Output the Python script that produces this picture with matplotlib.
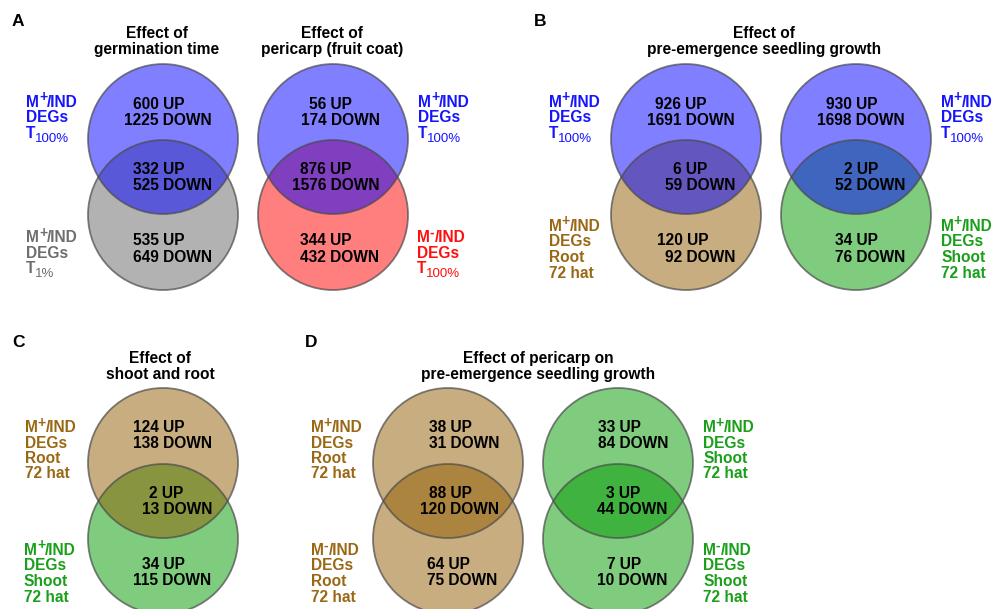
import matplotlib
matplotlib.use("Agg")
import matplotlib.pyplot as plt
from matplotlib.patches import Circle

plt.rcParams["font.family"] = ["Liberation Sans", "DejaVu Sans"]

# ---- DEG counts: [upper-only, overlap, lower-only] ----
germ_up = [600, 332, 535]
germ_down = [1225, 525, 649]
peri_up = [56, 876, 344]
peri_down = [174, 1576, 432]
root_growth_up = [926, 6, 120]
root_growth_down = [1691, 59, 92]
shoot_growth_up = [930, 2, 34]
shoot_growth_down = [1698, 52, 76]
shoot_root_up = [124, 2, 34]
shoot_root_down = [138, 13, 115]
peri_root_up = [38, 88, 64]
peri_root_down = [31, 120, 75]
peri_shoot_up = [33, 3, 7]
peri_shoot_down = [84, 44, 10]

panel_letters = ["A", "B", "C", "D"]
titles = [
    ["Effect of", "germination time"],
    ["Effect of", "pericarp (fruit coat)"],
    ["Effect of", "pre-emergence seedling growth"],
    ["Effect of", "shoot and root"],
    ["Effect of pericarp on", "pre-emergence seedling growth"],
]

BLUE = "#0000ff"
GRAY = "#666666"
RED = "#ff0000"
BROWN = "#915d00"
GREEN = "#009a00"

TXT = {"blue": "#1414ff", "gray": "#6e6e6e", "red": "#ff1010",
       "brown": "#9a6814", "green": "#1a9f1a"}

W, H = 993, 609
fig = plt.figure(figsize=(W / 100, H / 100), dpi=100)
ax = fig.add_axes([0, 0, 1, 1])
ax.set_xlim(0, W)
ax.set_ylim(H, 0)
ax.axis("off")
renderer = fig.canvas.get_renderer()

FS = 11.2
R = 75


def rich(x, y, pieces, color):
    """Draw a run of text pieces (text, size, weight, dy) on one baseline."""
    for s, size, weight, dy in pieces:
        t = ax.text(x, y + dy, s, fontsize=size, fontweight=weight,
                    color=color, ha="left", va="baseline")
        x += t.get_window_extent(renderer).width


def mlabel(x, y, sign, tail, color, step=15.5):
    """Side label like M+/IND, DEGs, T100% or Root/72 hat."""
    c = TXT[color]
    rich(x, y, [("M", FS, "bold", 0), (sign, 10, "bold", -5.5),
                ("/IND", FS, "bold", 0)], c)
    rich(x, y + step, [("DEGs", FS, "bold", 0)], c)
    yy = y + 2 * step
    for line in tail:
        if line.startswith("T"):
            rich(x, yy, [("T", FS, "bold", 0), (line[1:], 9.5, "normal", 4)], c)
        else:
            rich(x, yy, [(line, FS, "bold", 0)], c)
        yy += step


def venn(cx, cy_top, top_col, bot_col, ups, downs, lefts, baselines):
    # lower circle first, upper circle drawn over it
    for cy, col in ((cy_top + 76, bot_col), (cy_top, top_col)):
        ax.add_patch(Circle((cx, cy), R, facecolor=col, alpha=0.5,
                            edgecolor="none", zorder=1))
    for cy in (cy_top + 76, cy_top):
        ax.add_patch(Circle((cx, cy), R, facecolor="none",
                            edgecolor="#4a4a4a", lw=1.3, alpha=0.7, zorder=2))
    for i in range(3):
        ax.text(lefts[i][0], baselines[i][0], f"{ups[i]} UP", fontsize=FS,
                fontweight="bold", color="black", ha="left", va="baseline", zorder=3)
        ax.text(lefts[i][1], baselines[i][1], f"{downs[i]} DOWN", fontsize=FS,
                fontweight="bold", color="black", ha="left", va="baseline", zorder=3)


def title(cx, y, lines):
    ax.text(cx, y, lines[0], fontsize=FS, fontweight="bold", ha="center", va="baseline")
    ax.text(cx, y + 16, lines[1], fontsize=FS, fontweight="bold", ha="center", va="baseline")


# panel letters
for letter, (x, y) in zip(panel_letters, [(12, 26), (534, 26), (12, 347), (305, 347)]):
    ax.text(x, y, letter, fontsize=12.5, fontweight="bold", ha="left", va="baseline")

top_rows = [(109, 125), (174, 190), (245, 262)]
bot_rows = [(432, 448), (498, 514), (569, 585)]

# ---- A ----
title(157, 38, titles[0])
title(332, 38, titles[1])
venn(163, 139, BLUE, GRAY, germ_up, germ_down,
     [(133, 124), (133, 133), (133, 133)], top_rows)
venn(333, 139, BLUE, RED, peri_up, peri_down,
     [(309, 301), (300, 292), (300, 300)], top_rows)
mlabel(26, 107, "+", ["T100%"], "blue")
mlabel(26, 242, "+", ["T1%"], "gray")
mlabel(418, 107, "+", ["T100%"], "blue")
mlabel(417, 242, "-", ["T100%"], "red")

# ---- B ----
title(764, 38, titles[2])
venn(686, 139, BLUE, BROWN, root_growth_up, root_growth_down,
     [(655, 647), (673, 665), (657, 665)], top_rows)
venn(856, 139, BLUE, GREEN, shoot_growth_up, shoot_growth_down,
     [(826, 817), (844, 835), (835, 835)], top_rows)
mlabel(549, 107, "+", ["T100%"], "blue")
mlabel(549, 231, "+", ["Root", "72 hat"], "brown")
mlabel(941, 107, "+", ["T100%"], "blue")
mlabel(941, 231, "+", ["Shoot", "72 hat"], "green")

# ---- C ----
title(160, 363, titles[3])
venn(163, 463, BROWN, GREEN, shoot_root_up, shoot_root_down,
     [(133, 133), (149, 142), (142, 133)], bot_rows)
mlabel(25, 432, "+", ["Root", "72 hat"], "brown")
mlabel(24, 555, "+", ["Shoot", "72 hat"], "green")

# ---- D ----
title(538, 363, titles[4])
venn(448, 463, BROWN, BROWN, peri_root_up, peri_root_down,
     [(429, 429), (429, 420), (427, 427)], bot_rows)
venn(618, 463, GREEN, GREEN, peri_shoot_up, peri_shoot_down,
     [(598, 598), (606, 597), (607, 597)], bot_rows)
mlabel(311, 432, "+", ["Root", "72 hat"], "brown")
mlabel(311, 555, "-", ["Root", "72 hat"], "brown")
mlabel(703, 432, "+", ["Shoot", "72 hat"], "green")
mlabel(703, 555, "-", ["Shoot", "72 hat"], "green")

fig.savefig("out.png", dpi=100)
